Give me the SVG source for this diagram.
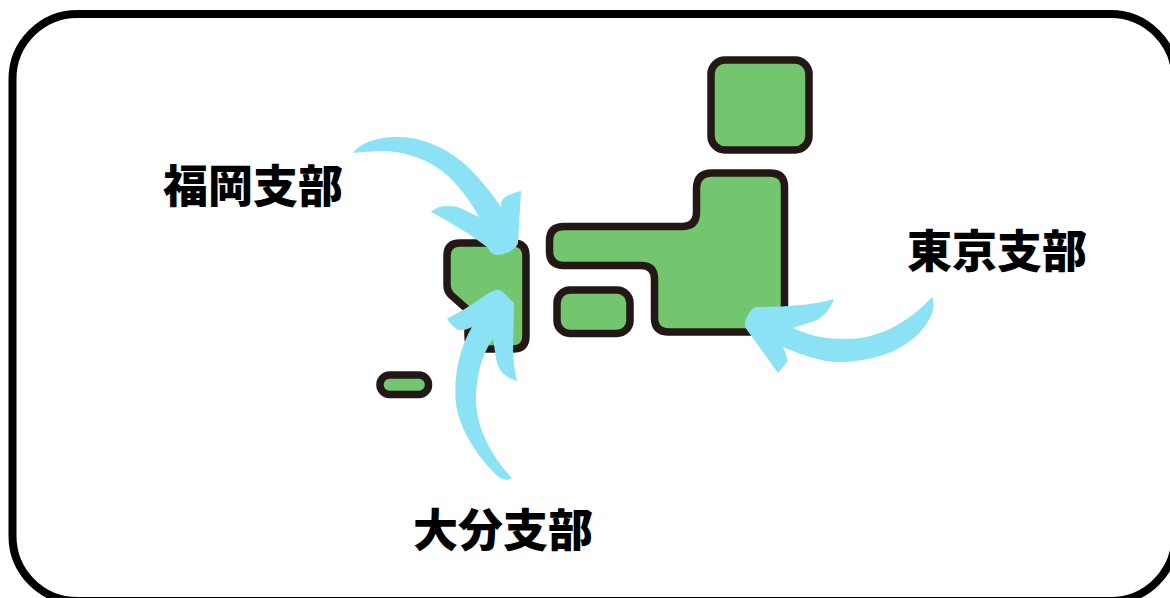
<svg xmlns="http://www.w3.org/2000/svg" width="1170" height="598" viewBox="0 0 1170 598">
<style>
.land{fill:#73c66e;stroke:#231815;stroke-width:7.500;stroke-linejoin:round}
.arrow{fill:#8ae2f4;stroke:none}
.label{font-family:"Noto Sans CJK JP","Noto Sans CJK SC",sans-serif;font-weight:900;font-size:45px;fill:#000}
</style>
<rect width="1170" height="598" fill="#fff"/>
<rect id="frame" x="12.500" y="14" width="1163" height="587" rx="65" ry="65" fill="#fff" stroke="#000" stroke-width="8"/>
<g id="map">
<rect id="hokkaido" class="land" x="711" y="60" width="98" height="90" rx="14"/>
<path id="honshu" class="land" d="M712 173H770Q784.500 173 784.500 187V318Q784.500 332 770 332H669Q654.500 332 654.500 318V279Q654.500 265.500 641 265.500H564Q549.500 265.500 549.500 251V241Q549.500 226.500 564 226.500H682Q696.500 226.500 696.500 212V189Q696.500 173 712 173Z"/>
<rect id="shikoku" class="land" x="557" y="290" width="73" height="43.500" rx="13"/>
<path id="kyushu" class="land" d="M460 243H513Q526 243 526 256V336Q526 349 513 349H481Q468 349 468 336V310L451 295Q447 291 447 285V256Q447 243 460 243Z"/>
<rect id="okinawa" class="land" x="380" y="375" width="48.500" height="19.500" rx="9.500"/>
</g>
<g id="connectors">
<path id="arrow-fukuoka" class="arrow" d="M353 153C360 143 378 137 397 137C425 137 450 150 468 167C482 181 493 195 501 207C500 199 505 195 521 191L518 243C517 248 507 255 497 255C491 255 489 249 487 247C470 234 450 222 431 212C438 205 450 205 460 208C468 211 474 215 479 217C470 200 458 185 447 175C430 160 405 151 383 151C372 151 362 152 353 153Z"/>
<path id="arrow-oita" class="arrow" d="M512 478C508 481 503 480 499 477C480 460 463 435 457 410C452 385 458 350 472 327C465 331 460 330 458 330C453 327 450 323 447 319L463 310C475 303 485 294 495 290C499 289 502 291 503 292L514 303L513 350C513 360 515 372 517 381C510 379 503 375 499 368C496 362 495 350 493 339C483 352 476 375 476 400C476 425 490 455 512 478Z"/>
<path id="arrow-tokyo" class="arrow" d="M932 297C936 306 932 316 925 326C912 344 885 361 840 362C820 362 800 354 783 347C785 352 788 358 787 362L778 373L747 330C744 327 745 322 746 319C749 313 752 307 757 307C785 307 815 305 834 299C831 307 826 315 817 320C810 323 800 325 793 328C810 336 825 339 847 339C880 339 910 321 932 297Z"/>
</g>
<g id="label-fukuoka"><text class="label" x="163" y="203">福岡支部</text></g>
<g id="label-tokyo"><text class="label" x="907" y="268">東京支部</text></g>
<g id="label-oita"><text class="label" x="413" y="547">大分支部</text></g>
</svg>
